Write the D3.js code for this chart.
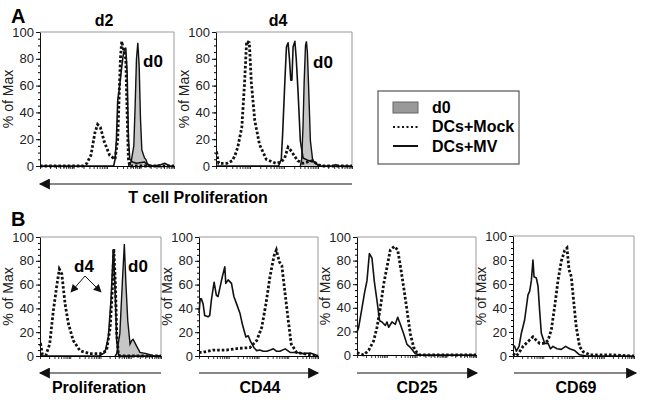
<!DOCTYPE html>
<html>
<head>
<meta charset="utf-8">
<script src="https://cdn.jsdelivr.net/npm/d3@7"></script>
<style>
body { margin: 0; background: #fff; }
text { font-family: "Liberation Sans", Arial, sans-serif; }
</style>
</head>
<body>
<svg id="chart" width="645" height="400"></svg>
<script>
// each curve: [position along the axis (0-100), % of Max]
var yTicks = [0, 20, 40, 60, 80, 100];
var legendNames = ["d0", "DCs+Mock", "DCs+MV"];
var panelTitles = ["d2", "d4"];
var axisNames = ["T cell Proliferation", "Proliferation", "CD44", "CD25", "CD69"];

var a1d0 = [[66,0],[68,3],[70,15],[71,45],[72,80],[73,92],[74,75],[75,35],[76,12],[78,6],[79,5],[80,2],[82,0]];
var a1Mock = [[0,0],[32,0],[35,2],[38,8],[41,25],[43,31],[45,29],[48,18],[52,8],[56,5],[58,20],[60,80],[61,93],[62,88],[63,85],[64,80],[65,40],[66,5],[67,0],[100,0]];
var a1Mv = [[0,0],[55,0],[56,5],[57,19],[58,49],[59,56],[61,74],[62,82],[63,87],[64,88],[65,70],[66,20],[67,5],[69,3],[72,2],[78,3],[80,1],[85,0],[90,1],[93,2],[95,1],[97,0],[100,0]];

var a2d0 = [[62,0],[63,5],[64,30],[64.8,62],[65.8,90],[66.5,93],[67.2,85],[68,62],[69.4,19],[71,5],[73,2],[76,0]];
var a2Mock = [[0,10],[0.5,10],[2,2],[8,2],[12,4],[14,8],[16,14],[19,29],[21,62],[22.5,93],[24.5,92],[26,62],[28.5,34],[32,16],[37,5],[44,2],[48,3],[50.5,6],[53,14],[55.5,11],[58,7],[60,4],[64,2],[71,4],[75,1],[78,0],[100,0]];
var a2Mv = [[0,0],[46,0],[48,5],[49,24],[50.5,60],[51.8,89],[53,92],[54,80],[55,64],[55.8,64],[56.7,89],[58,93],[59,80],[60.4,54],[62,19],[64,6],[68,4],[72,3],[76,0],[86,0],[88,1],[90,0],[100,0]];

var b1d0 = [[62,0],[63.4,2],[66,19],[68,61],[69.7,94],[71,61],[72.5,30],[74.4,10],[75.8,13],[77,14],[79,10],[82.6,3],[88,2],[94,0],[100,0]];
var b1Mock = [[0,10],[0.5,10],[2,1],[5,1],[8,10],[11,38],[14,60],[16,73],[18,69],[20.7,44],[23.5,27],[27.5,13],[33,4.5],[41,2],[50,2],[55,4.5],[58,24],[60,60],[61,90],[62.3,60],[63.4,19],[64.7,2],[66,0],[100,0]];
var b1Mv = [[0,0],[49,0],[53.7,3],[56.5,16],[58.7,47],[60.6,89],[62,58],[63.4,13],[64.7,2],[66,0],[100,0]];

var b2Mock = [[0,3],[3,3],[12,5],[23,5],[34,6.5],[42.8,7],[48.5,13],[52.7,24],[56.3,44],[59.7,67],[63,84],[65,89],[67.6,79],[69.6,76],[72.4,52],[75,30],[77.5,10],[82,3],[88,2],[100,0]];
var b2Mv = [[0,36],[1,48],[2,48],[3.4,44],[4.8,34],[7.6,33],[9,34],[10.4,47],[12.7,62],[14.6,51],[16,50],[17.5,57],[19.7,67],[21.7,75],[22.5,61],[24.5,64],[27.3,61],[29.3,50],[31.5,44],[34.4,36],[36.6,26],[39.4,16],[41.4,17],[43.4,12],[46.2,7],[48.5,4.5],[51,5],[54,4],[57,4],[60,5],[62.5,6],[65,4],[68,4],[72.4,6],[76.6,3],[82,3],[88,2],[93.5,2.5],[97.7,1],[100,0]];

var b3Mock = [[0,2],[5.6,0],[9.8,4],[14,12],[16.8,23.5],[19.6,40],[22.4,60],[25.2,74.5],[28,89],[31.4,92],[34.2,89],[37,72],[39.2,57.5],[42,38],[44.8,18],[47.6,6.5],[50.4,2],[53,0],[100,0]];
var b3Mv = [[0,19],[1.4,23.5],[4.2,40],[6.4,53],[8.4,63],[10.4,86],[12.6,82],[14.6,62],[16.8,46],[19,29],[21,28],[23.8,25],[25.2,28],[26.6,23.5],[29.4,28],[32.2,26],[34.2,32],[36.4,26],[39.2,18],[42,9],[44.8,6.5],[49,1],[53,0],[100,0]];

var b4Mock = [[0,2],[2.8,0],[5.5,3.6],[8.3,8],[12.4,12],[16.5,16],[19.3,13],[22,10.5],[26.2,10.5],[29,13],[31.7,22],[34.4,41],[37.2,63],[39.9,79],[42.7,88],[44.6,90],[46.3,72],[48.2,66],[50,47],[52.3,24],[55,8],[57.9,3.6],[63.4,1],[80,1],[100,0]];
var b4Mv = [[0,9],[1.4,8],[2.8,4],[5,8],[6.9,19],[9.6,30],[12.4,51],[13.8,54],[15.2,63],[16.5,80],[17.4,66],[19.3,65],[20.7,58],[22,38],[23.4,19],[26.2,10.5],[29,10.5],[30.9,6],[33,8],[36.4,6],[39.9,5.5],[43.5,8],[46.8,6],[51,4.5],[55,1],[60.6,0],[100,0]];

var panels = [
  {l: 40,  r: 174, t: 32,  b: 166, d0: a1d0, mock: a1Mock, mv: a1Mv},
  {l: 216, r: 352, t: 32,  b: 166, d0: a2d0, mock: a2Mock, mv: a2Mv},
  {l: 40,  r: 161, t: 237, b: 356, d0: b1d0, mock: b1Mock, mv: b1Mv},
  {l: 199, r: 318, t: 237, b: 356, d0: null, mock: b2Mock, mv: b2Mv},
  {l: 357, r: 476, t: 237, b: 355, d0: null, mock: b3Mock, mv: b3Mv},
  {l: 513, r: 634, t: 236, b: 356, d0: null, mock: b4Mock, mv: b4Mv}
];

var svg = d3.select("#chart");

var defs = svg.append("defs");
defs.append("marker")
    .attr("id", "head")
    .attr("viewBox", "0 0 10 10")
    .attr("refX", 9).attr("refY", 5)
    .attr("markerWidth", 10).attr("markerHeight", 8)
    .attr("markerUnits", "userSpaceOnUse")
    .attr("orient", "auto")
  .append("path")
    .attr("d", "M0,0L10,5L0,10Z")
    .attr("fill", "#111");
defs.append("marker")
    .attr("id", "bighead")
    .attr("viewBox", "0 0 10 10")
    .attr("refX", 9).attr("refY", 5)
    .attr("markerWidth", 14).attr("markerHeight", 11)
    .attr("markerUnits", "userSpaceOnUse")
    .attr("orient", "auto")
  .append("path")
    .attr("d", "M0,0L10,5L0,10Z")
    .attr("fill", "#111");

var logTicks = [];
for (var k = 0; k < 4; k++)
  for (var m = 1; m < 10; m++) logTicks.push(m * Math.pow(10, k));
logTicks.push(1e4);

panels.forEach(function(p) {
  var x = d3.scaleLinear().domain([0, 100]).range([p.l, p.r]);
  var y = d3.scaleLinear().domain([0, 100]).range([p.b, p.t]);
  var xl = d3.scaleLog().domain([1, 1e4]).range([p.l, p.r]);
  var g = svg.append("g");

  // frame: grey top/right
  g.append("path")
    .attr("d", "M" + p.l + "," + p.t + "H" + p.r + "V" + p.b)
    .attr("fill", "none").attr("stroke", "#999").attr("stroke-width", 1);

  var line = d3.line().x(function(d) { return x(d[0]); }).y(function(d) { return y(d[1]); });
  var area = d3.area().x(function(d) { return x(d[0]); }).y0(y(0)).y1(function(d) { return y(d[1]); });

  if (p.d0) {
    g.append("path").attr("d", area(p.d0)).attr("fill", "#c6c6c6");
    g.append("path").attr("d", line(p.d0)).attr("fill", "none")
      .attr("stroke", "#111").attr("stroke-width", 1.4);
  }
  g.append("path").attr("d", line(p.mv)).attr("fill", "none")
    .attr("stroke", "#111").attr("stroke-width", 1.6).attr("stroke-linejoin", "round");
  g.append("path").attr("d", line(p.mock)).attr("fill", "none")
    .attr("stroke", "#111").attr("stroke-width", 2.8).attr("stroke-dasharray", "2.6,2");

  // y axis
  var ya = g.append("g").attr("transform", "translate(" + p.l + ",0)")
    .call(d3.axisLeft(y).tickValues(yTicks).tickSize(4).tickSizeOuter(0).tickPadding(2));
  ya.selectAll("text").attr("font-size", 13).attr("fill", "#222")
    .style("font-family", "'Liberation Sans', Arial, sans-serif");
  g.append("g").attr("transform", "translate(" + p.l + ",0)")
    .call(d3.axisLeft(y).tickValues(d3.range(5, 100, 5)).tickSize(2).tickFormat(""))
    .select(".domain").remove();

  // x axis (log decades, no labels)
  var xa = g.append("g").attr("transform", "translate(0," + p.b + ")")
    .call(d3.axisBottom(xl).tickValues(logTicks).tickFormat("").tickSize(3).tickSizeOuter(0));
  xa.selectAll(".tick line").attr("stroke-width", 0.8);
  ya.selectAll(".domain, .tick line").attr("stroke", "#111");

  g.append("text")
    .attr("transform", "translate(" + (p.l - 27) + "," + ((p.t + p.b) / 2) + ") rotate(-90)")
    .attr("text-anchor", "middle").attr("font-size", 14).attr("fill", "#222")
    .text("% of Max");
});

// panel letters and titles
svg.append("text").attr("x", 11).attr("y", 23).attr("font-size", 20).attr("font-weight", "bold").text("A");
svg.append("text").attr("x", 11).attr("y", 226).attr("font-size", 20).attr("font-weight", "bold").text("B");
svg.append("text").attr("x", 104).attr("y", 26).attr("text-anchor", "middle")
  .attr("font-size", 16).attr("font-weight", "bold").text(panelTitles[0]);
svg.append("text").attr("x", 278).attr("y", 26).attr("text-anchor", "middle")
  .attr("font-size", 16).attr("font-weight", "bold").text(panelTitles[1]);

// d0 annotations
[[143, 67], [313, 68], [128, 272]].forEach(function(pos) {
  svg.append("text").attr("x", pos[0]).attr("y", pos[1])
    .attr("font-size", 17).attr("font-weight", "bold").text(legendNames[0]);
});
svg.append("text").attr("x", 74).attr("y", 272)
  .attr("font-size", 17).attr("font-weight", "bold").text("d4");
svg.append("path").attr("d", "M85,276L71,292").attr("stroke", "#111").attr("stroke-width", 1).attr("marker-end", "url(#head)");
svg.append("path").attr("d", "M85,276L101,292").attr("stroke", "#111").attr("stroke-width", 1).attr("marker-end", "url(#head)");

// direction arrows and axis names
var arrows = [
  {x1: 352, x2: 40, y: 184, label: axisNames[0], lx: 198, ly: 203},
  {x1: 161, x2: 40, y: 373, label: axisNames[1], lx: 99, ly: 393},
  {x1: 199, x2: 318, y: 373, label: axisNames[2], lx: 260, ly: 393},
  {x1: 357, x2: 477, y: 373, label: axisNames[3], lx: 417, ly: 393},
  {x1: 514, x2: 636, y: 373, label: axisNames[4], lx: 576, ly: 393}
];
arrows.forEach(function(a) {
  svg.append("path").attr("d", "M" + a.x1 + "," + a.y + "H" + a.x2)
    .attr("stroke", "#111").attr("stroke-width", 1.2).attr("marker-end", "url(#bighead)");
  svg.append("text").attr("x", a.lx).attr("y", a.ly).attr("text-anchor", "middle")
    .attr("font-size", 16).attr("font-weight", "bold").text(a.label);
});

// legend
var lg = svg.append("g");
lg.append("rect").attr("x", 378).attr("y", 91).attr("width", 141).attr("height", 73)
  .attr("fill", "#fff").attr("stroke", "#555").attr("stroke-width", 1.2);
lg.append("rect").attr("x", 393).attr("y", 102).attr("width", 25).attr("height", 11)
  .attr("fill", "#999").attr("stroke", "#666").attr("stroke-width", 1);
lg.append("line").attr("x1", 393).attr("x2", 418).attr("y1", 127).attr("y2", 127)
  .attr("stroke", "#111").attr("stroke-width", 2).attr("stroke-dasharray", "2,2.5");
lg.append("line").attr("x1", 393).attr("x2", 418).attr("y1", 146).attr("y2", 146)
  .attr("stroke", "#111").attr("stroke-width", 2);
[113, 132, 152].forEach(function(yy, i) {
  lg.append("text").attr("x", 432).attr("y", yy).attr("font-size", 16)
    .attr("font-weight", "bold").text(legendNames[i]);
});
</script>
</body>
</html>
